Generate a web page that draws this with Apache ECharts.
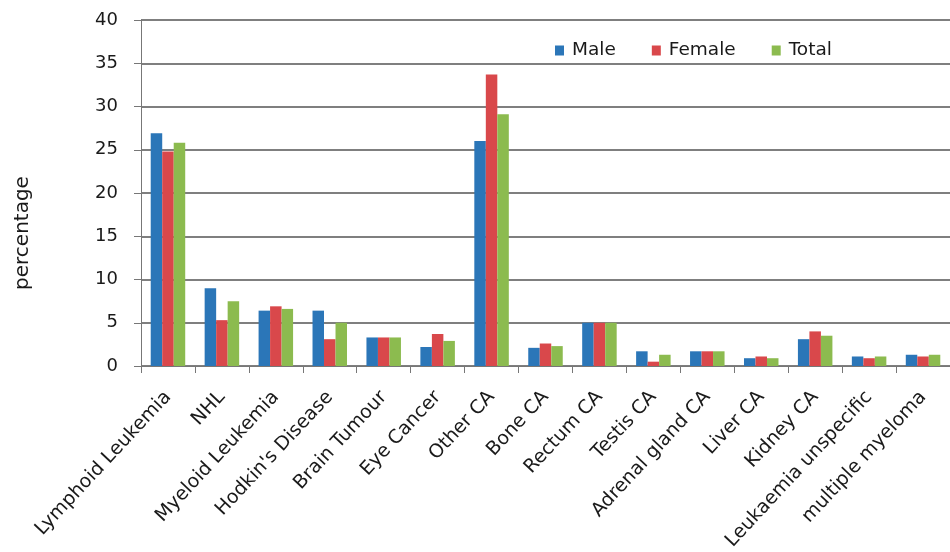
<!DOCTYPE html>
<html>
<head>
<meta charset="utf-8">
<script src="https://cdn.jsdelivr.net/npm/echarts@6/dist/echarts.min.js"></script>
<style>
  html, body { margin: 0; padding: 0; background: #fff; }
  #chart { width: 950px; height: 552px; }
</style>
</head>
<body>
<div id="chart"></div>
<script>
// cancer types (x axis)
var categories = ['Lymphoid Leukemia', 'NHL', 'Myeloid Leukemia', "Hodkin's Disease", 'Brain Tumour',
  'Eye Cancer', 'Other CA', 'Bone CA', 'Rectum CA', 'Testis CA', 'Adrenal gland CA', 'Liver CA',
  'Kidney CA', 'Leukaemia unspecific', 'multiple myeloma'];

// percentages
var male   = [26.9, 9.0, 6.4, 6.4, 3.3, 2.2, 26.0, 2.1, 5.0, 1.7, 1.7, 0.9, 3.1, 1.1, 1.3];
var female = [24.8, 5.3, 6.9, 3.1, 3.3, 3.7, 33.7, 2.6, 5.0, 0.5, 1.7, 1.1, 4.0, 0.9, 1.1];
var total  = [25.8, 7.5, 6.6, 5.0, 3.3, 2.9, 29.1, 2.3, 5.0, 1.3, 1.7, 0.9, 3.5, 1.1, 1.3];

var seriesNames = ['Male', 'Female', 'Total'];
var colors = ['#2b76b8', '#d9484b', '#8cbb4f'];

var font = 'DejaVu Sans';
var myChart = echarts.init(document.getElementById('chart'));

var option = {
  animation: false,
  textStyle: { fontFamily: font },
  color: colors,
  grid: { left: 141, right: 0, top: 20, bottom: 186, outerBoundsMode: 'none' },
  legend: {
    data: seriesNames,
    left: 550, top: 36,
    icon: 'rect', itemWidth: 9, itemHeight: 10, itemGap: 36,
    textStyle: { fontFamily: font, fontSize: 18.5, color: '#1a1a1a', padding: [0, 0, 0, 3] }
  },
  xAxis: {
    type: 'category',
    data: categories,
    axisLine: { lineStyle: { color: '#777', width: 1 } },
    axisTick: { show: true, length: 7, lineStyle: { color: '#777' } },
    axisLabel: { rotate: 47, interval: 0, margin: 28, fontFamily: font, fontSize: 19, color: '#1a1a1a' }
  },
  yAxis: {
    type: 'value',
    min: 0, max: 40, interval: 5,
    name: 'percentage',
    nameLocation: 'middle',
    nameGap: 108,
    nameRotate: 90,
    nameTextStyle: { fontFamily: font, fontSize: 20, color: '#1a1a1a', padding: [0, 80, 0, 0] },
    axisLine: { show: true, lineStyle: { color: '#777' } },
    axisTick: { show: true, length: 7, lineStyle: { color: '#777' } },
    axisLabel: { margin: 23, fontFamily: font, fontSize: 18, color: '#1a1a1a' },
    splitLine: { lineStyle: { color: '#555', width: 1.5 } }
  },
  series: [
    { name: seriesNames[0], type: 'bar', data: male, barWidth: 11.5, barGap: '0%' },
    { name: seriesNames[1], type: 'bar', data: female, barWidth: 11.5, barGap: '0%' },
    { name: seriesNames[2], type: 'bar', data: total, barWidth: 11.5, barGap: '0%' }
  ]
};

myChart.setOption(option);
</script>
</body>
</html>
